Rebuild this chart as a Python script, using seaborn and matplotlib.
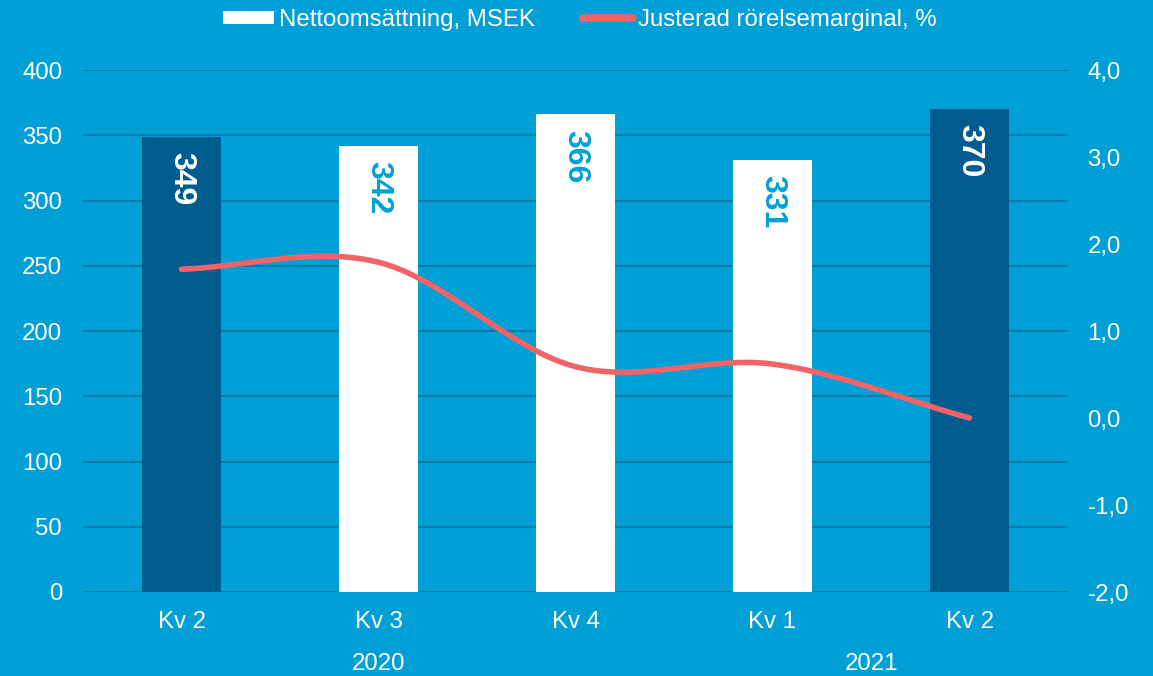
import numpy as np
import pandas as pd
import matplotlib
matplotlib.use('Agg')
import matplotlib.pyplot as plt
from matplotlib.patches import Patch
from matplotlib.lines import Line2D
import seaborn as sns

# data
quarters = ['Kv 2', 'Kv 3', 'Kv 4', 'Kv 1', 'Kv 2']
years = ['2020', '2021']
year_span = [(0, 2), (3, 4)]  # quarter index range for each year
sales = [349, 342, 366, 331, 370]
margin = [1.71, 1.79, 0.59, 0.62, 0.0]
highlight = [True, False, False, False, True]

BG = '#00A0D6'
DARK = '#005B8F'
GRID = '#0B7BA9'
RED = '#F06468'
FS = 17.3

sns.set_style('white')
plt.rcParams['font.family'] = ['Liberation Sans', 'DejaVu Sans']

fig = plt.figure(figsize=(11.53, 6.76), dpi=100, facecolor=BG)
ax = fig.add_axes([83 / 1153, 1 - 592 / 676, (1068 - 83) / 1153, (592 - 70) / 676])
ax.set_facecolor(BG)

df = pd.DataFrame({'key': [f'{i}' for i in range(len(sales))], 'sales': sales,
                   'col': [DARK if h else 'white' for h in highlight]})
sns.barplot(data=df, x='key', y='sales', hue='key', palette=list(df['col']),
            legend=False, width=0.4, saturation=1, linewidth=0, ax=ax, zorder=3)

ax.set_ylim(0, 400)
ax.set_xlim(-0.5, len(sales) - 0.5)
ax.set_yticks(range(0, 401, 50))
ax.yaxis.grid(True, color=GRID, lw=1.5, zorder=0)
ax.set_axisbelow(True)
for s in ax.spines.values():
    s.set_visible(False)
ax.set_xlabel('')
ax.set_ylabel('')
ax.set_xticks(range(len(quarters)))
ax.set_xticklabels(quarters)
ax.tick_params(axis='x', length=0, pad=14, labelsize=FS, labelcolor='white')
ax.tick_params(axis='y', length=0, pad=15, labelsize=FS, labelcolor='white')

# bar value labels, rotated
for i, v in enumerate(sales):
    ax.annotate(str(v), (i, v), xytext=(0, -11), textcoords='offset points',
                rotation=270, ha='center', va='top', fontsize=23, fontweight='bold',
                color='white' if highlight[i] else BG, zorder=5)

# year labels
for yr, (a, b) in zip(years, year_span):
    ax.annotate(yr, ((a + b) / 2, 0), xytext=(0, -52), textcoords='offset points',
                ha='center', va='center', fontsize=FS, color='white',
                annotation_clip=False)

# secondary axis with smoothed line (Catmull-Rom through data points)
ax2 = ax.twinx()
ax2.set_ylim(-2, 4)
ax2.set_yticks(np.arange(-2, 4.1, 1))
ax2.set_yticklabels([f'{t:.1f}'.replace('.', ',') for t in np.arange(-2, 4.1, 1)])
ax2.tick_params(axis='y', length=0, pad=14, labelsize=FS, labelcolor='white')
for s in ax2.spines.values():
    s.set_visible(False)

px = np.arange(len(margin), dtype=float)
py = np.array(margin)
P = np.column_stack([px, py])
P = np.vstack([P[0] - (P[1] - P[0]), P, P[-1] + (P[-1] - P[-2])])
xs, ys = [], []
t = np.linspace(0, 1, 40)
for k in range(1, len(P) - 2):
    p0, p1, p2, p3 = P[k - 1], P[k], P[k + 1], P[k + 2]
    seg = 0.5 * ((2 * p1)[None, :] + (-p0 + p2)[None, :] * t[:, None]
                 + (2 * p0 - 5 * p1 + 4 * p2 - p3)[None, :] * t[:, None] ** 2
                 + (-p0 + 3 * p1 - 3 * p2 + p3)[None, :] * t[:, None] ** 3)
    xs.extend(seg[:, 0])
    ys.extend(seg[:, 1])
ax2.plot(xs, ys, color=RED, lw=4, solid_capstyle='round', zorder=4)

handles = [Patch(facecolor='white', edgecolor='none'),
           Line2D([0], [0], color=RED, lw=5.5, solid_capstyle='round')]
fig.legend(handles, ['Nettoomsättning, MSEK', 'Justerad rörelsemarginal, %'],
           loc='center', bbox_to_anchor=(0.503, 1 - 20 / 676), ncol=2, frameon=False,
           fontsize=FS, labelcolor='white', handlelength=2.1, handleheight=0.5,
           handletextpad=0.2, columnspacing=2.0)

fig.savefig('out.png', dpi=100, facecolor=BG)
